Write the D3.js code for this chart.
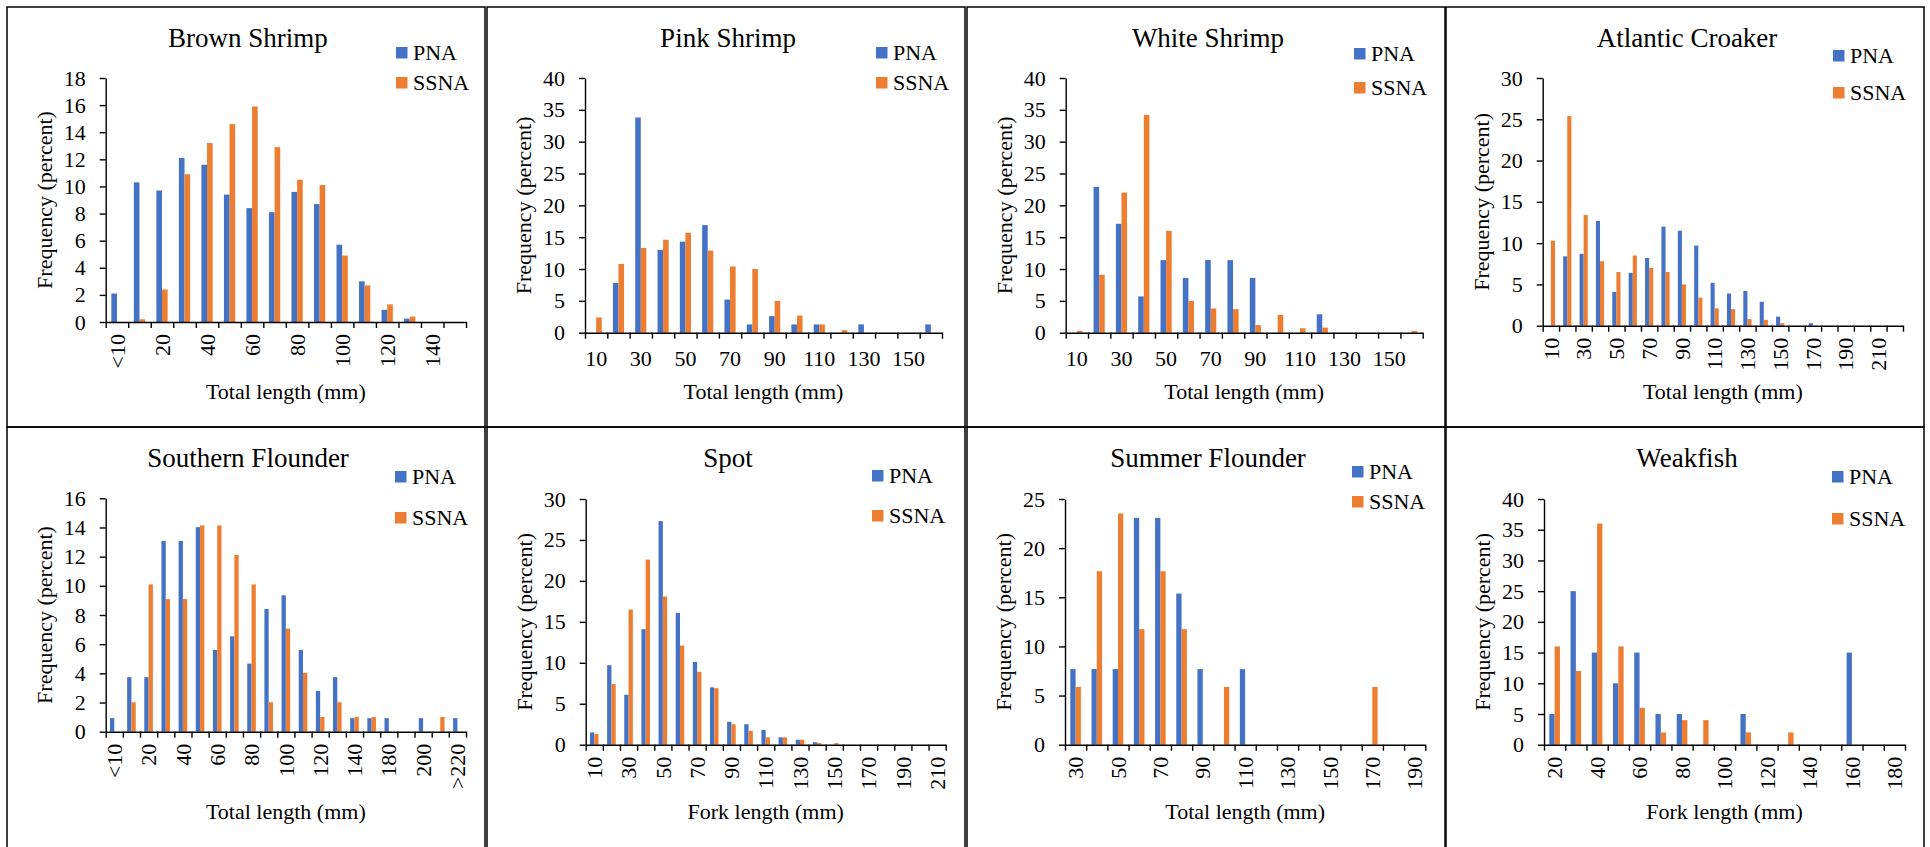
<!DOCTYPE html>
<html><head><meta charset="utf-8">
<script src="https://cdn.jsdelivr.net/npm/d3@7"></script>
<style>
html,body{margin:0;padding:0;background:#fff;}
svg{display:block;font-family:"Liberation Serif","Times New Roman",serif;}
</style></head><body>
<svg id="chart" width="1930" height="847"></svg>
<script>
const seriesNames = ["PNA", "SSNA"];
const seriesColors = ["#4472C4", "#ED7D31"];

// Brown Shrimp
const brownCats = ["<10","10","20","30","40","50","60","70","80","90","100","110","120","130","140","150"];
const brownPNA  = [2.1,10.3,9.7,12.1,11.6,9.4,8.4,8.1,9.6,8.7,5.7,3.0,0.9,0.25,0,0];
const brownSSNA = [0,0.2,2.4,10.9,13.2,14.6,15.9,12.9,10.5,10.1,4.9,2.7,1.3,0.4,0,0];
const brownXLabels = ["<10","20","40","60","80","100","120","140"];
const brownYTicks = [0,2,4,6,8,10,12,14,16,18];

// Pink Shrimp
const pinkCats = ["10","20","30","40","50","60","70","80","90","100","110","120","130","140","150","160"];
const pinkPNA  = [0,7.8,33.8,13.0,14.3,16.9,5.2,1.3,2.6,1.3,1.3,0,1.3,0,0,1.3];
const pinkSSNA = [2.4,10.8,13.3,14.6,15.7,12.9,10.4,10.0,5.0,2.7,1.3,0.4,0,0,0,0];
const pinkXLabels = ["10","30","50","70","90","110","130","150"];
const pinkYTicks = [0,5,10,15,20,25,30,35,40];

// White Shrimp
const whiteCats = ["10","20","30","40","50","60","70","80","90","100","110","120","130","140","150","160"];
const whitePNA  = [0,22.9,17.1,5.7,11.4,8.6,11.4,11.4,8.6,0,0,2.9,0,0,0,0];
const whiteSSNA = [0.3,9.1,22.0,34.2,16.0,5.0,3.8,3.7,1.2,2.8,0.7,0.8,0,0,0,0.3];
const whiteXLabels = ["10","30","50","70","90","110","130","150"];
const whiteYTicks = [0,5,10,15,20,25,30,35,40];

// Atlantic Croaker
const croakerCats = ["10","20","30","40","50","60","70","80","90","100","110","120","130","140","150","160","170","180","190","200","210","220"];
const croakerPNA  = [0,8.4,8.7,12.7,4.1,6.4,8.2,12.0,11.5,9.7,5.2,3.9,4.2,2.9,1.1,0,0.3,0,0,0,0,0];
const croakerSSNA = [10.3,25.4,13.4,7.8,6.5,8.5,7.0,6.5,5.0,3.4,2.1,2.0,0.8,0.7,0.3,0,0,0,0,0,0,0];
const croakerXLabels = ["10","30","50","70","90","110","130","150","170","190","210"];
const croakerYTicks = [0,5,10,15,20,25,30];

// Southern Flounder
const sflounderCats = ["<10","10","20","30","40","50","60","70","80","90","100","110","120","130","140","160","180","190","200","210",">220"];
const sflounderPNA  = [0.93,3.74,3.74,13.08,13.08,14.02,5.61,6.54,4.67,8.41,9.35,5.61,2.80,3.74,0.93,0.93,0.93,0,0.93,0,0.93];
const sflounderSSNA = [0,2.02,10.10,9.09,9.09,14.14,14.14,12.12,10.10,2.02,7.07,4.04,1.01,2.02,1.01,1.01,0,0,0,1.01,0];
const sflounderXLabels = ["<10","20","40","60","80","100","120","140","180","200",">220"];
const sflounderYTicks = [0,2,4,6,8,10,12,14,16];

// Spot
const spotCats = ["10","20","30","40","50","60","70","80","90","100","110","120","130","140","150","160","170","180","190","200","210"];
const spotPNA  = [1.5,9.7,6.1,14.1,27.3,16.1,10.1,7.0,2.8,2.5,1.8,0.9,0.6,0.3,0,0,0,0,0,0,0];
const spotSSNA = [1.3,7.4,16.5,22.6,18.1,12.1,8.9,6.9,2.5,1.7,0.9,0.9,0.6,0.2,0.2,0,0,0,0,0,0];
const spotXLabels = ["10","30","50","70","90","110","130","150","170","190","210"];
const spotYTicks = [0,5,10,15,20,25,30];

// Summer Flounder
const sumflCats = ["30","40","50","60","70","80","90","100","110","120","130","140","150","160","170","180","190"];
const sumflPNA  = [7.69,7.69,7.69,23.08,23.08,15.38,7.69,0,7.69,0,0,0,0,0,0,0,0];
const sumflSSNA = [5.88,17.65,23.53,11.76,17.65,11.76,0,5.88,0,0,0,0,0,0,5.88,0,0];
const sumflXLabels = ["30","50","70","90","110","130","150","170","190"];
const sumflYTicks = [0,5,10,15,20,25];

// Weakfish
const weakCats = ["20","30","40","50","60","70","80","90","100","110","120","130","140","150","160","170","180"];
const weakPNA  = [5,25,15,10,15,5,5,0,0,5,0,0,0,0,15,0,0];
const weakSSNA = [16,12,36,16,6,2,4,4,0,2,0,2,0,0,0,0,0];
const weakXLabels = ["20","40","60","80","100","120","140","160","180"];
const weakYTicks = [0,5,10,15,20,25,30,35,40];

const panels = [
  {title:"Brown Shrimp", cats:brownCats, s:[brownPNA,brownSSNA], yTicks:brownYTicks, xLabels:brownXLabels, xTitle:"Total length (mm)", rotate:true,
   box:[7,7], plot:{l:105.7,r:466,t:78,b:322}, leg:{x:396,y:[47,77]}},
  {title:"Pink Shrimp", cats:pinkCats, s:[pinkPNA,pinkSSNA], yTicks:pinkYTicks, xLabels:pinkXLabels, xTitle:"Total length (mm)", rotate:false,
   box:[487,7], plot:{l:585,r:942,t:78,b:332.7}, leg:{x:876,y:[47,77]}},
  {title:"White Shrimp", cats:whiteCats, s:[whitePNA,whiteSSNA], yTicks:whiteYTicks, xLabels:whiteXLabels, xTitle:"Total length (mm)", rotate:false,
   box:[967,7], plot:{l:1065.7,r:1422.7,t:78,b:332.7}, leg:{x:1354,y:[48,82]}},
  {title:"Atlantic Croaker", cats:croakerCats, s:[croakerPNA,croakerSSNA], yTicks:croakerYTicks, xLabels:croakerXLabels, xTitle:"Total length (mm)", rotate:true,
   box:[1446,7], plot:{l:1542.7,r:1903,t:78,b:325.7}, leg:{x:1833,y:[50,87]}},
  {title:"Southern Flounder", cats:sflounderCats, s:[sflounderPNA,sflounderSSNA], yTicks:sflounderYTicks, xLabels:sflounderXLabels, xTitle:"Total length (mm)", rotate:true,
   box:[7,427], plot:{l:105.7,r:466,t:498.3,b:731.7}, leg:{x:395,y:[471,512]}},
  {title:"Spot", cats:spotCats, s:[spotPNA,spotSSNA], yTicks:spotYTicks, xLabels:spotXLabels, xTitle:"Fork length (mm)", rotate:true,
   box:[487,427], plot:{l:585.7,r:945.7,t:499,b:744.7}, leg:{x:872,y:[470,510]}},
  {title:"Summer Flounder", cats:sumflCats, s:[sumflPNA,sumflSSNA], yTicks:sumflYTicks, xLabels:sumflXLabels, xTitle:"Total length (mm)", rotate:true,
   box:[967,427], plot:{l:1065,r:1425.3,t:499,b:744.7}, leg:{x:1352,y:[466,496]}},
  {title:"Weakfish", cats:weakCats, s:[weakPNA,weakSSNA], yTicks:weakYTicks, xLabels:weakXLabels, xTitle:"Fork length (mm)", rotate:true,
   box:[1446,427], plot:{l:1544,r:1905,t:499,b:744.7}, leg:{x:1832,y:[471,513]}}
];

const svg = d3.select("#chart");
const boxW = 478, boxH = 420;
const txt = "#000";
const fs = 22;

panels.forEach(p => {
  const g = svg.append("g");
  g.append("rect").attr("x", p.box[0]).attr("y", p.box[1]).attr("width", boxW).attr("height", p.box[1] > 100 ? 440 : boxH)
    .attr("fill", "none").attr("stroke", "#000").attr("stroke-width", 1.5);

  const P = p.plot;
  const yMax = p.yTicks[p.yTicks.length - 1];
  const y = d3.scaleLinear().domain([0, yMax]).range([P.b, P.t]);
  const x = d3.scaleBand().domain(p.cats).range([P.l, P.r]).paddingInner(0).paddingOuter(0);
  const sub = d3.scaleBand().domain(seriesNames).range([0, x.step()]).paddingInner(0).paddingOuter(1);
  const xi = d3.scaleLinear().domain([0, p.cats.length]).range([P.l, P.r]);

  // bars
  seriesNames.forEach((sn, si) => {
    g.append("g").selectAll("rect")
      .data(p.cats.map((c, i) => ({c, v: p.s[si][i]})).filter(d => d.v > 0))
      .join("rect")
      .attr("x", d => x(d.c) + sub(sn))
      .attr("width", sub.bandwidth())
      .attr("y", d => y(d.v))
      .attr("height", d => y(0) - y(d.v))
      .attr("fill", seriesColors[si]);
  });

  // y axis
  const ya = g.append("g").attr("transform", `translate(${P.l},0)`)
    .call(d3.axisLeft(y).tickValues(p.yTicks).tickSize(6).tickSizeOuter(0).tickPadding(14));
  ya.selectAll("path,line").attr("stroke", "#000").attr("stroke-width", 1.4);
  ya.selectAll("text").attr("font-size", fs).attr("font-family", "Liberation Serif").attr("fill", txt);
  ya.attr("font-family", null).attr("font-size", null);

  // x axis (ticks at category boundaries)
  const xa = g.append("g").attr("transform", `translate(0,${P.b})`)
    .call(d3.axisBottom(xi).tickValues(d3.range(p.cats.length + 1)).tickFormat("").tickSize(6).tickSizeOuter(0));
  xa.selectAll("path,line").attr("stroke", "#000").attr("stroke-width", 1.4);

  // x tick labels
  const lab = g.append("g").selectAll("text")
    .data(p.cats.filter(c => p.xLabels.includes(c)))
    .join("text")
    .attr("font-size", fs).attr("fill", txt)
    .text(d => d);
  if (p.rotate) {
    lab.attr("text-anchor", "end").attr("dy", "0.35em")
      .attr("transform", d => `translate(${x(d) + x.bandwidth() / 2},${P.b + 12}) rotate(-90)`);
  } else {
    lab.attr("text-anchor", "middle")
      .attr("x", d => x(d) + x.bandwidth() / 2).attr("y", P.b + 33);
  }

  // axis titles
  g.append("text").attr("text-anchor", "middle").attr("font-size", fs).attr("fill", txt)
    .attr("x", (P.l + P.r) / 2).attr("y", p.box[1] + 392).text(p.xTitle);
  g.append("text").attr("text-anchor", "middle").attr("font-size", fs).attr("fill", txt)
    .attr("transform", `translate(${P.l - 54},${(P.t + P.b) / 2}) rotate(-90)`).text("Frequency (percent)");

  // chart title
  g.append("text").attr("text-anchor", "middle").attr("font-size", 27).attr("fill", txt)
    .attr("x", p.box[0] + boxW / 2 + 2).attr("y", p.box[1] + 40).text(p.title);

  // legend
  seriesNames.forEach((sn, si) => {
    g.append("rect").attr("x", p.leg.x).attr("y", p.leg.y[si]).attr("width", 11.5).attr("height", 11.5).attr("fill", seriesColors[si]);
    g.append("text").attr("x", p.leg.x + 17).attr("y", p.leg.y[si] + 12.5).attr("font-size", fs).attr("fill", txt).text(sn);
  });
});
</script>
</body></html>
